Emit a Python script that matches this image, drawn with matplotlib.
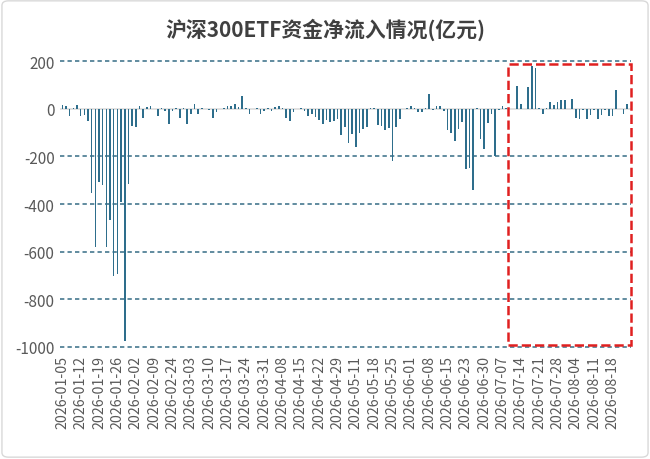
import matplotlib
matplotlib.use("Agg")
import matplotlib.pyplot as plt
from matplotlib.patches import Rectangle, FancyBboxPatch

plt.rcParams["font.family"] = ["Noto Sans CJK SC", "DejaVu Sans"]
plt.rcParams["axes.unicode_minus"] = False

title = "沪深300ETF资金净流入情况(亿元)"

# one label every 5 trading days
tick_dates = [
    "2026-01-05", "2026-01-12", "2026-01-19", "2026-01-26", "2026-02-02",
    "2026-02-09", "2026-02-24", "2026-03-03", "2026-03-10", "2026-03-17",
    "2026-03-24", "2026-03-31", "2026-04-08", "2026-04-15", "2026-04-22",
    "2026-04-29", "2026-05-11", "2026-05-18", "2026-05-25", "2026-06-01",
    "2026-06-08", "2026-06-15", "2026-06-23", "2026-06-30", "2026-07-07",
    "2026-07-14", "2026-07-21", "2026-07-28", "2026-08-04", "2026-08-11",
    "2026-08-18",
]

# daily net inflow, 亿元
net_inflow = [
    15, 12, -30, 5, 15, -30, -25, -50, -352, -580,
    -308, -320, -580, -465, -700, -695, -390, -975, -315, -74,
    -76, 10, -40, 8, 12, -3, -30, 5, -8, -62,
    -8, 5, -40, 3, -65, -24, 20, -20, 4, 0,
    -5, -37, -12, 0, 5, 10, 10, 18, 8, 55,
    5, -20, 0, 5, -20, -10, 2, -10, 8, 10,
    5, -38, -52, -15, 0, 5, -10, -30, -24, -35,
    -46, -62, -46, -55, -50, -45, -110, -76, -145, -104,
    -160, -100, -83, -76, 3, 2, -70, -74, -90, -80,
    -218, -76, -42, 0, 2, 12, 3, -15, -15, 4,
    62, -5, 10, 10, -10, -90, -100, -135, -85, -55,
    -255, -250, -340, 3, -125, -170, -60, -20, -200, -5,
    10, 5, 0, 0, 97, 20, 0, 93, 180, 170,
    5, -20, 5, 30, 17, 30, 38, 35, 0, 42,
    -39, -45, -5, -42, -25, -5, -45, -28, -5, -30,
    -30, 77, 0, -20, 20,
]

y_ticks = [200, 0, -200, -400, -600, -800, -1000]

# highlighted recent period (index range, value range)
box_x = (121.5, 155.1)
box_y = (-990, 188)

bar_color = "#2E6E8C"
grid_color = "#46788F"
text_color = "#595959"

fig = plt.figure(figsize=(6.5, 4.6), dpi=100)
ax = fig.add_axes([0.0925, 0.2435, 0.878, 0.6215])

x = list(range(len(net_inflow)))
ax.bar(x, net_inflow, width=0.45, color=bar_color, zorder=3)
ax.axhline(0, color="#D9D9D9", lw=1.1, zorder=2)
for y in y_ticks:
    if y != 0:
        ax.axhline(y, color=grid_color, lw=1.2, ls=(0, (2.6, 1.9)),
                   zorder=1, clip_on=False)

ax.set_xlim(-0.6, 155.0)
ax.set_ylim(-1000, 200)
ax.set_yticks(y_ticks)
ax.set_xticks(list(range(0, len(tick_dates) * 5, 5)))
ax.set_xticklabels(tick_dates, rotation=90, va="top", ha="center")
ax.tick_params(axis="both", length=0, labelcolor=text_color)
ax.tick_params(axis="x", pad=6, labelsize=10.2)
ax.tick_params(axis="y", pad=4, labelsize=11)
for s in ax.spines.values():
    s.set_visible(False)

ax.add_patch(Rectangle((box_x[0], box_y[0]), box_x[1] - box_x[0],
                       box_y[1] - box_y[0], fill=False, ec="#E02020",
                       lw=1.8, ls=(0, (3.7, 1.6)), zorder=5, clip_on=False))

fig.text(0.5, 1 - 30 / 460, title, ha="center", va="center", fontsize=15,
         fontweight="bold", color="#404040")

fig.patches.append(FancyBboxPatch((0.003, 0.004), 0.994, 0.992,
                                  boxstyle="round,pad=0,rounding_size=0.01",
                                  transform=fig.transFigure, fill=False,
                                  ec="#D9D9D9", lw=1.0))

fig.savefig("out.png", dpi=100)
